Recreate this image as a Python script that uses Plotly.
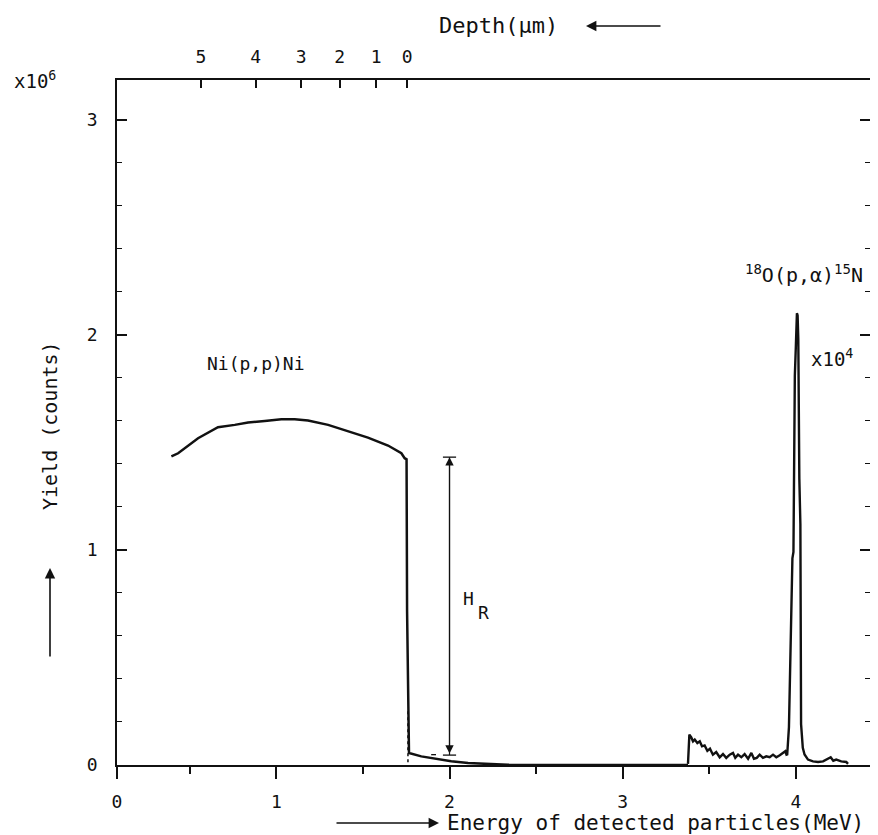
import plotly.graph_objects as go

# ---------------- data (energy in MeV, yield in units of 1e6 counts) ----------------
ni_energy = [0.394, 0.433, 0.548, 0.663, 0.760, 0.837, 0.933, 1.029, 1.106, 1.183,
             1.299, 1.414, 1.529, 1.645, 1.722, 1.741, 1.752, 1.755, 1.763, 1.766,
             1.837, 1.915, 2.010, 2.107, 2.203, 2.338, 2.453, 3.000, 3.377]
ni_yield = [1.434, 1.449, 1.519, 1.570, 1.581, 1.592, 1.599, 1.607, 1.607, 1.601,
            1.581, 1.553, 1.522, 1.485, 1.449, 1.426, 1.421, 0.715, 0.251, 0.056,
            0.040, 0.029, 0.017, 0.009, 0.005, 0.001, 0.0, 0.0, 0.0]

# 18O(p,alpha)15N region, displayed x1e4
o_energy = [3.377, 3.385, 3.396, 3.406, 3.416, 3.431, 3.445, 3.458, 3.473, 3.489,
            3.504, 3.521, 3.540, 3.560, 3.579, 3.598, 3.618, 3.637, 3.650, 3.666,
            3.685, 3.704, 3.724, 3.743, 3.758, 3.774, 3.791, 3.810, 3.829, 3.849,
            3.868, 3.887, 3.907, 3.926, 3.939, 3.946, 3.950, 3.960, 3.980, 3.986,
            3.994, 4.000, 4.006, 4.010, 4.014, 4.020, 4.026, 4.030, 4.040, 4.050,
            4.070, 4.099, 4.128, 4.157, 4.186, 4.201, 4.216, 4.233, 4.262, 4.291, 4.301]
o_yield = [0.005, 0.141, 0.128, 0.110, 0.118, 0.102, 0.110, 0.087, 0.091, 0.066,
           0.076, 0.048, 0.060, 0.036, 0.051, 0.033, 0.048, 0.056, 0.033, 0.048,
           0.036, 0.051, 0.029, 0.056, 0.029, 0.033, 0.048, 0.033, 0.040, 0.036,
           0.048, 0.036, 0.045, 0.056, 0.064, 0.048, 0.049, 0.176, 0.961, 0.990,
           1.810, 1.950, 2.100, 2.090, 1.980, 1.330, 1.120, 0.190, 0.080, 0.049,
           0.025, 0.017, 0.014, 0.017, 0.029, 0.036, 0.020, 0.025, 0.017, 0.014, 0.005]

# dotted foot of the Ni edge
edge_dot_energy = [1.760, 1.760]
edge_dot_yield = [0.25, 0.0]
# small baseline dash left of H_R arrow
dash_energy = [1.894, 1.922]
dash_yield = [0.048, 0.048]

# depth scale (top axis): energy positions of depth marks
depth_energy = [0.564, 0.881, 1.144, 1.366, 1.577, 1.756]
depth_labels = ["5", "4", "3", "2", "1", "0"]

X_MIN, X_MAX = 0.080, 4.428
Y_RANGE = [0, 3.184]
x_ticks = [X_MIN, 1, 2, 3, 4]
x_tick_labels = ["0", "1", "2", "3", "4"]
x_minor = [0.5, 1.5, 2.5, 3.5]
y_ticks = [0, 1, 2, 3]

# H_R arrow
hr_energy = 2.0
hr_top = 1.431
hr_bottom = 0.046
hr_bar_half = 0.038

FONT = "DejaVu Sans Mono"
BLACK = "#111111"

fig = go.Figure()
fig.add_trace(go.Scatter(x=ni_energy, y=ni_yield, mode="lines",
                         line=dict(color=BLACK, width=2.5), showlegend=False))
fig.add_trace(go.Scatter(x=o_energy, y=o_yield, mode="lines", xaxis="x2",
                         line=dict(color=BLACK, width=2.4), showlegend=False))
fig.add_trace(go.Scatter(x=edge_dot_energy, y=edge_dot_yield, mode="lines",
                         line=dict(color=BLACK, width=1.5, dash="dot"), showlegend=False))
fig.add_trace(go.Scatter(x=dash_energy, y=dash_yield, mode="lines",
                         line=dict(color=BLACK, width=1.3), showlegend=False))
# H_R vertical with end bars
fig.add_trace(go.Scatter(x=[hr_energy, hr_energy], y=[hr_bottom, hr_top], mode="lines",
                         line=dict(color=BLACK, width=1.2), showlegend=False))
fig.add_trace(go.Scatter(x=[hr_energy - hr_bar_half, hr_energy + hr_bar_half], y=[hr_top, hr_top],
                         mode="lines", line=dict(color=BLACK, width=1.3), showlegend=False))
fig.add_trace(go.Scatter(x=[hr_energy - hr_bar_half, hr_energy + hr_bar_half], y=[hr_bottom, hr_bottom],
                         mode="lines", line=dict(color=BLACK, width=1.3), showlegend=False))

W, H = 878, 835
ML, MR, MT, MB = 109, 16, 72, 78
PW, PH = W - ML - MR, H - MT - MB


def px(xp):
    return (xp - ML) / PW


def py(yp):
    return (H - MB - yp) / PH


def f(size):
    return dict(family=FONT, size=size, color=BLACK)


ann = []
# H_R arrowheads
ann.append(dict(x=hr_energy, y=hr_top, ax=hr_energy, ay=hr_bottom, xref="x", yref="y",
                axref="x", ayref="y", text="", showarrow=True, arrowside="end+start",
                arrowhead=2, arrowsize=1.4, arrowwidth=1.2, arrowcolor=BLACK,
                standoff=0, startstandoff=0))
ann.append(dict(x=px(460), y=py(590), xref="paper", yref="paper", text="H", showarrow=False,
                xanchor="center", yanchor="middle", font=f(18)))
ann.append(dict(x=px(475), y=py(604), xref="paper", yref="paper", text="R", showarrow=False,
                xanchor="center", yanchor="middle", font=f(18)))
ann.append(dict(x=px(197), y=py(355), xref="paper", yref="paper", text="Ni(p,p)Ni",
                showarrow=False, xanchor="left", yanchor="middle", font=f(18)))
ann.append(dict(x=px(735), y=py(266), xref="paper", yref="paper",
                text="<sup>18</sup>O(p,α)<sup>15</sup>N",
                showarrow=False, xanchor="left", yanchor="middle", font=f(20)))
ann.append(dict(x=px(801), y=py(350), xref="paper", yref="paper", text="x10<sup>4</sup>",
                showarrow=False, xanchor="left", yanchor="middle", font=f(19)))
# axis multiplier
ann.append(dict(x=px(4), y=py(72), xref="paper", yref="paper", text="x10<sup>6</sup>",
                showarrow=False, xanchor="left", yanchor="middle", font=f(19)))
# top title + arrow
ann.append(dict(x=px(429), y=py(18), xref="paper", yref="paper", text="Depth(μm)",
                showarrow=False, xanchor="left", yanchor="middle", font=f(22)))
ann.append(dict(x=px(578), y=py(18), xref="paper", yref="paper", text="", showarrow=True,
                ax=76, ay=0, arrowhead=2, arrowsize=1.3, arrowwidth=1.6, arrowcolor=BLACK))
# bottom title + arrow
ann.append(dict(x=px(437), y=py(815), xref="paper", yref="paper",
                text="Energy of detected particles(MeV)", showarrow=False,
                xanchor="left", yanchor="middle", font=f(21)))
ann.append(dict(x=px(431), y=py(815), xref="paper", yref="paper", text="", showarrow=True,
                ax=-104, ay=0, arrowhead=2, arrowsize=1.3, arrowwidth=1.6, arrowcolor=BLACK))
# left title + arrow
ann.append(dict(x=px(42), y=py(418), xref="paper", yref="paper", text="Yield (counts)",
                showarrow=False, textangle=-90, xanchor="center", yanchor="middle", font=f(20)))
ann.append(dict(x=px(42), y=py(560), xref="paper", yref="paper", text="", showarrow=True,
                ax=0, ay=90, arrowhead=2, arrowsize=1.3, arrowwidth=1.6, arrowcolor=BLACK))

axis_common = dict(showgrid=False, zeroline=False, color=BLACK, tickfont=f(18))

fig.update_layout(
    width=W, height=H,
    margin=dict(l=ML, r=MR, t=MT, b=MB),
    paper_bgcolor="white", plot_bgcolor="white",
    showlegend=False,
    annotations=ann,
    xaxis=dict(range=[X_MIN, X_MAX], showline=True, linecolor=BLACK, linewidth=1.5, mirror=True,
               ticks="outside", tickvals=x_ticks, ticktext=x_tick_labels, ticklen=12,
               tickwidth=1.5, tickcolor=BLACK, ticklabelstandoff=8,
               minor=dict(tickvals=x_minor, ticks="outside", ticklen=7, tickwidth=1.5,
                          tickcolor=BLACK),
               **axis_common),
    xaxis2=dict(range=[X_MIN, X_MAX], overlaying="x", side="top", showline=False,
                ticks="inside", tickvals=depth_energy, ticktext=depth_labels, ticklen=8,
                tickwidth=1.5, tickcolor=BLACK, ticklabelstandoff=12, **axis_common),
    yaxis=dict(range=Y_RANGE, showline=True, linecolor=BLACK, linewidth=1.5, mirror="ticks",
               ticks="inside", tickvals=y_ticks, ticklen=10, tickwidth=1.5, tickcolor=BLACK,
               ticklabelstandoff=14,
               minor=dict(dtick=0.2, ticks="inside", ticklen=5, tickwidth=1.2,
                          tickcolor=BLACK),
               **axis_common),
)

fig.write_html("out.html")
